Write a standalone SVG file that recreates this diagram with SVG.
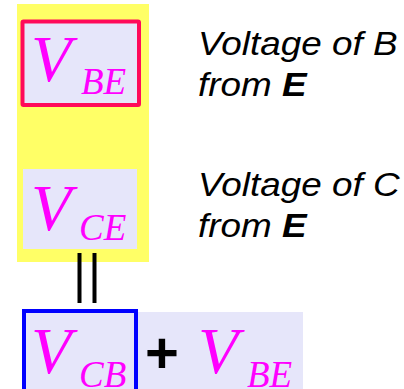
<svg xmlns="http://www.w3.org/2000/svg" width="404" height="389" viewBox="0 0 404 389">
<style>
.v{font-family:"Liberation Serif",serif;font-style:italic;fill:#ff00ff;font-size:66px}
.s{font-family:"Liberation Serif",serif;font-style:italic;fill:#ff00ff;font-size:37px}
.t{font-family:"Liberation Sans",sans-serif;font-style:italic;fill:#000;font-size:34px}
.lav{fill:#e6e6fa}
</style>
<rect x="17" y="4" width="132" height="258" fill="#ffff66"/>
<g id="vbe">
<rect x="22.5" y="21.5" width="116.5" height="83.5" class="lav" stroke="#ff0a5a" stroke-width="4" rx="1"/>
<text class="v" x="31" y="81">V</text>
<text class="s" x="81" y="94">BE</text>
</g>
<g id="vce">
<rect x="23" y="169" width="114" height="80" class="lav"/>
<text class="v" x="31" y="230">V</text>
<text class="s" x="79" y="240">CE</text>
</g>
<g id="label-b" transform="translate(198,0) scale(1.085,1)">
<text class="t" x="0" y="55">Voltage of B</text>
<text class="t" x="0" y="96">from <tspan font-weight="bold">E</tspan></text>
</g>
<g id="label-c" transform="translate(198,0) scale(1.085,1)">
<text class="t" x="0" y="196">Voltage of C</text>
<text class="t" x="0" y="237">from <tspan font-weight="bold">E</tspan></text>
</g>
<g id="connectors">
<line x1="79.5" y1="253" x2="79.5" y2="303" stroke="#000" stroke-width="4"/>
<line x1="94.5" y1="253" x2="94.5" y2="303" stroke="#000" stroke-width="4"/>
</g>
<g id="sum">
<rect x="137" y="312" width="166" height="77" class="lav"/>
<rect x="24" y="311" width="112" height="80" class="lav" stroke="#0000ff" stroke-width="4"/>
<text class="v" x="31" y="373">V</text>
<text class="s" x="79" y="387">CB</text>
<text x="145" y="373" font-family="Liberation Sans,sans-serif" font-weight="bold" font-size="58" fill="#000">+</text>
<text class="v" x="198" y="373">V</text>
<text class="s" x="247" y="387">BE</text>
</g>
</svg>
